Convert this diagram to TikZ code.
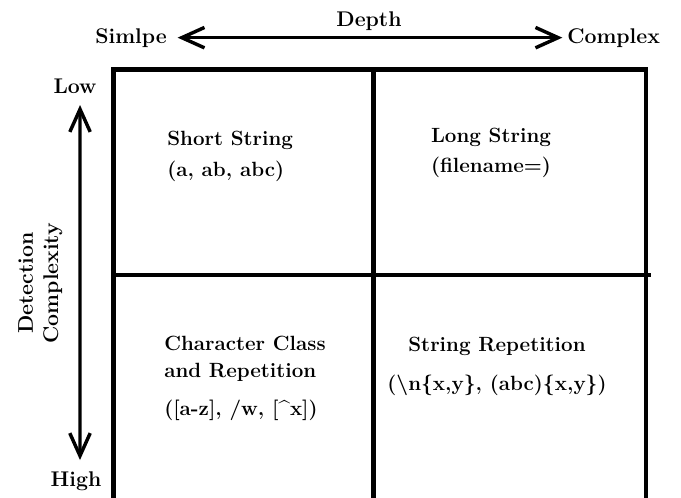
\documentclass[tikz,border=0pt]{standalone}
\usepackage{tikz}
\usetikzlibrary{arrows.meta}

\begin{document}
\begin{tikzpicture}[
    tag/.style={inner sep=0pt, font=\bfseries\fontsize{16}{19}\selectfont},
    cell/.style={inner sep=0pt, font=\bfseries\fontsize{15.5}{18.6}\selectfont},
    frame/.style={line width=3.75pt, line join=miter},
    axisarrow/.style={{Straight Barb[length=6mm, width=5.4mm, line width=2.6pt]}-{Straight Barb[length=6mm, width=5.4mm, line width=2.6pt]}, line width=2.4pt}
]
\useasboundingbox (0,0) rectangle (18.018,13.150);
\fill[white] (0,0) rectangle (18.018,13.150);
\clip (0,0) rectangle (18.018,13.150);

% Grid
\draw[frame] (3.003,-0.3) -- (3.003,11.324) -- (17.092,11.324) -- (17.092,-0.3);
\draw[frame] (9.882,11.324) -- (9.882,-0.3);
\draw[frame] (3.003,5.874) -- (17.224,5.874);

% Axis labels
\node[tag, anchor=base] (depth) at (9.763,12.462) {Depth};
\node[tag, anchor=base east] (simple) at (4.418,12.012) {Simlpe};
\node[tag, anchor=base west] (complex) at (15.002,12.012) {Complex};
\node[tag, anchor=base] (low) at (1.984,10.663) {Low};
\node[tag, anchor=base] (high) at (2.011,0.265) {High};
\node[tag, rotate=90, align=center] (detect) at (1.07,5.662) {Detection\\Complexity};

% Cells
\node[cell, align=left, anchor=north west] (short) at (4.419,9.690)
    {Short String\\[5pt](a, ab, abc)};
\node[cell, align=center, anchor=north] (long) at (12.991,9.757)
    {Long String\\[3.4pt](filename=)};
\node[cell, align=left, anchor=north west] (class) at (4.339,4.272)
    {Character Class\\[2.1pt]and Repetition\\[10pt]([a-z], /w, [\textasciicircum x])};
\node[cell, align=center, anchor=north] (repeat) at (13.150,4.227)
    {String Repetition\\[10.4pt](\textbackslash n\{x,y\}, (abc)\{x,y\})};

% Arrows
\draw[axisarrow, shorten <=8pt, shorten >=3.5pt] (simple) -- (complex);
\draw[axisarrow, shorten <=8pt, shorten >=9pt] ([xshift=3.8pt]low.south) -- ([xshift=3pt]high.north);

\end{tikzpicture}
\end{document}
